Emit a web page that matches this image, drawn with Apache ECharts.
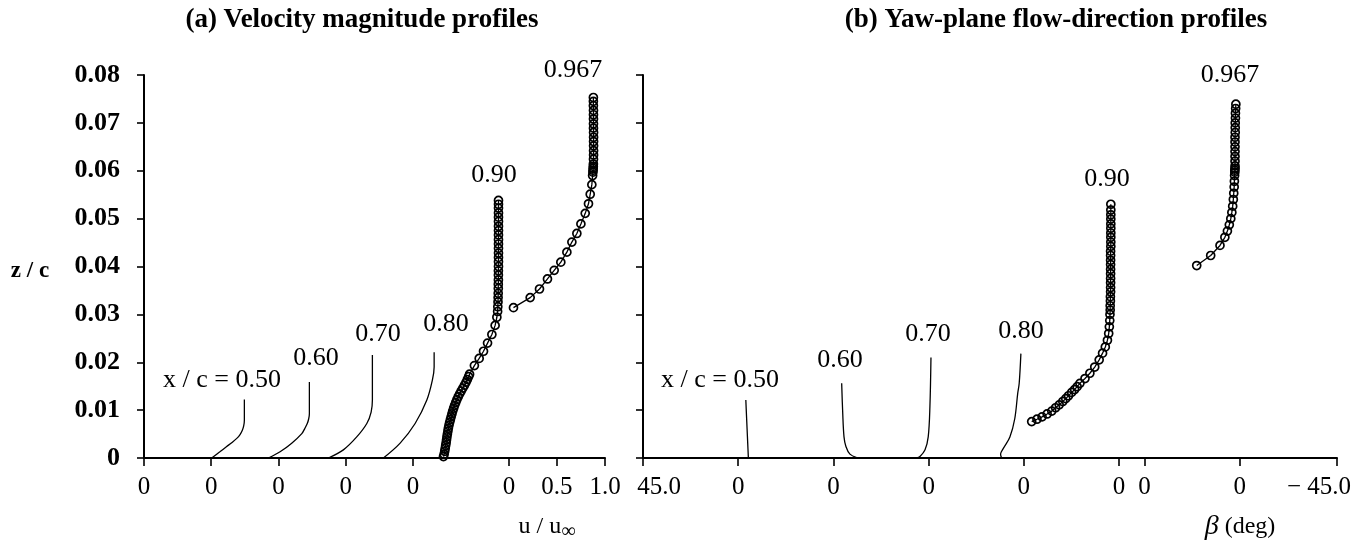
<!DOCTYPE html>
<html>
<head>
<meta charset="utf-8">
<script src="https://cdn.jsdelivr.net/npm/echarts@6/dist/echarts.min.js"></script>
<style>
html,body{margin:0;padding:0;background:#fff;}
#c{width:1372px;height:546px;}
</style>
</head>
<body>
<div id="c"></div>
<script>
// ---------- axis ticks ----------
const zTicks = [0, 0.01, 0.02, 0.03, 0.04, 0.05, 0.06, 0.07, 0.08];
// panel (a): positions of tick marks along the shared u axis (each profile has its own zero)
const aTickPos = [0, 0.7, 1.4, 2.1, 2.8, 3.8, 4.3, 4.8];
const aTickLabels = ['0', '0', '0', '0', '0', '0', '0.5', '1.0'];
const aOffsets = [0, 0.7, 1.4, 2.1, 2.8, 3.8];     // zero of each profile (x/c = .50 ... .967)
// panel (b): positions (deg, measured rightwards) of tick marks
const bTickPos = [0, 45, 90, 135, 180, 225, 237, 282, 328];
const bTickLabels = ['45.0', '0', '0', '0', '0', '0', '0', '0', '\u2212 45.0'];
const bOffsets = [45, 90, 135, 180, 225, 282];      // zero of each profile

const stations = ['x / c = 0.50', '0.60', '0.70', '0.80', '0.90', '0.967'];

// ---------- (a) velocity magnitude profiles: [u/uinf, z/c] ----------
const vel050 = [[0.705,0],[0.79,0.0013],[0.861,0.0024],[0.913,0.0032],[0.966,0.0041],[1.0,0.0049],[1.024,0.0058],[1.038,0.0067],[1.045,0.0079],[1.045,0.0122]];
const vel060 = [[0.595,0],[0.717,0.0013],[0.838,0.0031],[0.943,0.0051],[0.975,0.0062],[1.0,0.0072],[1.015,0.0082],[1.022,0.0093],[1.022,0.0159]];
const vel070 = [[0.52,0],[0.676,0.0017],[0.815,0.0044],[0.92,0.0072],[0.965,0.0096],[0.978,0.0121],[0.978,0.0215]];
const vel080 = [[0.393,0],[0.567,0.0031],[0.723,0.0072],[0.845,0.0121],[0.903,0.0163],[0.921,0.019],[0.921,0.0221]];
const vel090 = [[0.318,0.0003],[0.325,0.0008],[0.331,0.0014],[0.336,0.002],[0.341,0.0026],[0.346,0.0032],[0.35,0.0038],[0.354,0.0044],[0.359,0.005],[0.364,0.0056],[0.369,0.0062],[0.375,0.0068],[0.382,0.0074],[0.39,0.008],[0.398,0.0086],[0.406,0.0092],[0.414,0.0098],[0.424,0.0104],[0.434,0.011],[0.446,0.0116],[0.458,0.0122],[0.472,0.0128],[0.487,0.0134],[0.503,0.014],[0.52,0.0146],[0.537,0.0152],[0.553,0.0158],[0.567,0.0164],[0.58,0.017],[0.59,0.0175],[0.64,0.0193],[0.69,0.0208],[0.735,0.0223],[0.777,0.024],[0.822,0.0258],[0.856,0.0277],[0.874,0.0294],[0.882,0.0306],[0.884,0.0316],[0.886,0.0326],[0.887,0.0335],[0.888,0.0344],[0.889,0.0354],[0.889,0.0363],[0.89,0.0372],[0.89,0.0382],[0.89,0.0391],[0.891,0.04],[0.891,0.041],[0.891,0.0419],[0.891,0.0428],[0.891,0.0438],[0.891,0.0447],[0.891,0.0456],[0.891,0.0466],[0.891,0.0475],[0.891,0.0484],[0.891,0.0494],[0.891,0.0503],[0.891,0.0512],[0.891,0.0522],[0.891,0.053],[0.891,0.0538]];
const vel0967 = [[0.047,0.0314],[0.221,0.0335],[0.318,0.0353],[0.401,0.0374],[0.471,0.0392],[0.54,0.0409],[0.603,0.043],[0.655,0.0451],[0.707,0.0469],[0.749,0.0489],[0.794,0.0511],[0.828,0.0531],[0.846,0.0551],[0.863,0.0571],[0.871,0.059],[0.874,0.0597],[0.876,0.0601],[0.877,0.0605],[0.878,0.0609],[0.879,0.0614],[0.88,0.0624],[0.881,0.0633],[0.881,0.0642],[0.881,0.0652],[0.881,0.0661],[0.881,0.067],[0.881,0.068],[0.88,0.0689],[0.88,0.0698],[0.88,0.0708],[0.88,0.0717],[0.88,0.0726],[0.879,0.0736],[0.879,0.0745],[0.879,0.0753]];

// ---------- (b) yaw-plane flow direction: [beta deg, z/c] ----------
const yaw050 = [[-4.8,0],[-4.5,0.003],[-4.2,0.006],[-3.9,0.009],[-3.6,0.0121]];
const yaw060 = [[-11.0,0.0001],[-7.8,0.0008],[-5.9,0.0024],[-5.0,0.0044],[-4.4,0.0093],[-3.9,0.0156]];
const yaw070 = [[5.7,0],[4.1,0.0003],[1.7,0.0017],[0.2,0.0044],[-0.6,0.0107],[-1.1,0.021]];
const yaw080 = [[10.5,0],[11.0,0.0008],[9.7,0.002],[6.6,0.0044],[4.3,0.0082],[2.9,0.0135],[2.2,0.0156],[1.4,0.0218]];
const yaw090 = [[41.3,0.0076],[38.8,0.0081],[36.4,0.0086],[34.0,0.0092],[31.8,0.0098],[30.0,0.0105],[28.3,0.0111],[26.6,0.0118],[25.2,0.0124],[23.9,0.013],[22.4,0.0137],[21.0,0.0143],[19.8,0.0149],[18.5,0.0156],[16.1,0.0166],[13.8,0.0177],[11.5,0.019],[9.4,0.0205],[7.8,0.0219],[6.5,0.0232],[5.5,0.0246],[4.9,0.026],[4.6,0.0274],[4.4,0.0287],[4.3,0.03],[4.2,0.0309],[4.2,0.0318],[4.1,0.0328],[4.1,0.0337],[4.0,0.0347],[4.0,0.0356],[4.0,0.0366],[4.0,0.0375],[4.0,0.0385],[4.0,0.0394],[4.0,0.0404],[4.0,0.0413],[4.0,0.0423],[4.0,0.0432],[3.9,0.0442],[3.9,0.0451],[3.9,0.0461],[3.9,0.047],[3.9,0.048],[3.9,0.0489],[3.9,0.0499],[3.9,0.0508],[3.9,0.0518],[3.9,0.053]];
const yaw0967 = [[20.3,0.0402],[13.7,0.0423],[9.3,0.0444],[7.0,0.0461],[5.8,0.0474],[4.9,0.0487],[4.2,0.05],[3.7,0.0513],[3.3,0.0526],[3.0,0.054],[2.8,0.0553],[2.6,0.0566],[2.5,0.0578],[2.4,0.059],[2.3,0.0597],[2.3,0.0601],[2.2,0.0605],[2.2,0.061],[2.2,0.062],[2.2,0.063],[2.2,0.064],[2.2,0.065],[2.2,0.066],[2.2,0.067],[2.1,0.068],[2.1,0.069],[2.1,0.07],[2.0,0.071],[2.0,0.072],[1.9,0.073],[1.8,0.0739]];

const velProfiles = [vel050, vel060, vel070, vel080, vel090, vel0967];
const yawProfiles = [yaw050, yaw060, yaw070, yaw080, yaw090, yaw0967];
const withMarkers = [false, false, false, false, true, true];

const SERIF = '"Liberation Serif", "Times New Roman", serif';

function lookup(pos, labels, v) {
  const i = pos.findIndex(p => Math.abs(p - v) < 1e-6);
  return i >= 0 ? labels[i] : '';
}

function makeSeries(profiles, offsets, sign, axisIndex) {
  return profiles.map((pts, k) => {
    const m = withMarkers[k];
    return {
      type: 'line',
      xAxisIndex: axisIndex, yAxisIndex: axisIndex,
      data: pts.map(p => [offsets[k] + sign * p[0], p[1]]),
      smooth: m ? false : 0.35,
      symbol: m ? 'circle' : 'none',
      symbolSize: 8,
      lineStyle: { color: '#000', width: 1.3 },
      itemStyle: { color: 'rgba(0,0,0,0)', borderColor: '#000', borderWidth: 1.7 },
      emphasis: { disabled: true },
      animation: false,
      z: 3
    };
  });
}

const axisLineStyle = { color: '#000', width: 2 };
const tickStyle = { color: '#000', width: 1.6 };

function yAxisCfg(idx, showLabels) {
  return {
    type: 'value', gridIndex: idx, min: 0, max: 0.08, interval: 0.01,
    axisLine: { show: true, onZero: false, lineStyle: axisLineStyle },
    axisTick: { show: true, inside: false, length: 7, lineStyle: tickStyle },
    axisLabel: {
      show: showLabels, margin: 24, color: '#000',
      fontFamily: SERIF, fontSize: 26, fontWeight: 'bold',
      formatter: v => (Math.abs(v) < 1e-9 ? '0' : v.toFixed(2))
    },
    splitLine: { show: false }
  };
}

const chart = echarts.init(document.getElementById('c'), null, { renderer: 'canvas' });

const option = {
  backgroundColor: '#fff',
  animation: false,
  grid: [
    { left: 144, right: 1372 - 605, top: 75, bottom: 88 },
    { left: 643, right: 35, top: 75, bottom: 88 }
  ],
  xAxis: [
    {
      type: 'value', gridIndex: 0, min: 0, max: 4.8,
      axisLine: { show: true, onZero: false, lineStyle: axisLineStyle },
      axisTick: { show: true, length: 8, lineStyle: tickStyle, customValues: aTickPos },
      axisLabel: {
        customValues: aTickPos, margin: 17, color: '#000', fontFamily: SERIF, fontSize: 25,
        formatter: v => lookup(aTickPos, aTickLabels, v)
      },
      splitLine: { show: false }
    },
    {
      type: 'value', gridIndex: 1, min: 0, max: 328,
      axisLine: { show: true, onZero: false, lineStyle: axisLineStyle },
      axisTick: { show: true, length: 8, lineStyle: tickStyle, customValues: bTickPos },
      axisLabel: {
        customValues: bTickPos, margin: 17, color: '#000', fontFamily: SERIF, fontSize: 25,
        formatter: v => {
          const t = lookup(bTickPos, bTickLabels, v);
          if (Math.abs(v - bTickPos[0]) < 1e-6) return '{l|' + t + '}';
          if (Math.abs(v - bTickPos[bTickPos.length - 1]) < 1e-6) return '{r|' + t + '}';
          return t;
        },
        rich: {
          l: { fontFamily: SERIF, fontSize: 25, color: '#000', padding: [0, 0, 0, 32] },
          r: { fontFamily: SERIF, fontSize: 25, color: '#000', padding: [0, 36, 0, 0] }
        }
      },
      splitLine: { show: false }
    }
  ],
  yAxis: [yAxisCfg(0, true), yAxisCfg(1, false)],
  series: [].concat(
    makeSeries(velProfiles, aOffsets, 1, 0),
    makeSeries(yawProfiles, bOffsets, -1, 1)
  ),
  graphic: []
};

function txt(text, x, y, font, extra) {
  return {
    type: 'text', silent: true, z: 10,
    style: Object.assign({
      text: text, x: x, y: y, fill: '#000', font: font,
      textAlign: 'center', textVerticalAlign: 'middle', align: 'center', verticalAlign: 'middle'
    }, extra || {})
  };
}

const annFont = '26px ' + SERIF;
const annA = [[222, 380], [316, 358], [378, 334], [446, 324], [494, 175], [573, 70]];
const annB = [[720, 380], [840, 360], [928, 334], [1021, 331], [1107, 179], [1230, 75]];
stations.forEach((s, k) => {
  option.graphic.push(txt(s, annA[k][0], annA[k][1], annFont));
  option.graphic.push(txt(s, annB[k][0], annB[k][1], annFont));
});
option.graphic.push(txt('(a) Velocity magnitude profiles', 362, 20, 'bold 27px ' + SERIF));
option.graphic.push(txt('(b) Yaw-plane flow-direction profiles', 1056, 20, 'bold 27px ' + SERIF));
option.graphic.push(txt('z / c', 30, 271, 'bold 23px ' + SERIF));
option.graphic.push(txt('{a|u / u}{b|\u221E}', 547, 527, '24px ' + SERIF, {
  rich: {
    a: { fontFamily: SERIF, fontSize: 24, fill: '#000' },
    b: { fontFamily: SERIF, fontSize: 20, fill: '#000', padding: [10, 0, 0, 0] }
  }
}));
option.graphic.push(txt('{i|\u03B2} {n|(deg)}', 1240, 527, '24px ' + SERIF, {
  rich: {
    i: { fontFamily: SERIF, fontSize: 28, fontStyle: 'italic', fill: '#000' },
    n: { fontFamily: SERIF, fontSize: 24, fill: '#000' }
  }
}));

chart.setOption(option);
</script>
</body>
</html>
